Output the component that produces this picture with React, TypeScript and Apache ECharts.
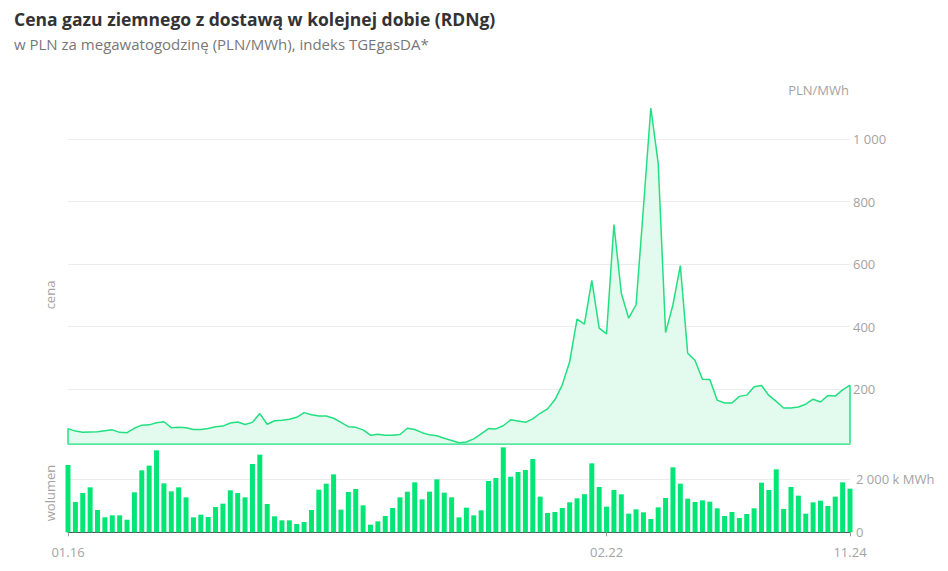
import React, { useEffect, useRef } from "react";
import * as echarts from "echarts";

const FONT = "'Open Sans', 'Noto Sans', sans-serif";

const TITLE = "Cena gazu ziemnego z dostawą w kolejnej dobie (RDNg)";
const SUBTITLE = "w PLN za megawatogodzinę (PLN/MWh), indeks TGEgasDA*";

const months = [
  "01.16","02.16","03.16","04.16","05.16","06.16","07.16","08.16","09.16","10.16","11.16","12.16",
  "01.17","02.17","03.17","04.17","05.17","06.17","07.17","08.17","09.17","10.17","11.17","12.17",
  "01.18","02.18","03.18","04.18","05.18","06.18","07.18","08.18","09.18","10.18","11.18","12.18",
  "01.19","02.19","03.19","04.19","05.19","06.19","07.19","08.19","09.19","10.19","11.19","12.19",
  "01.20","02.20","03.20","04.20","05.20","06.20","07.20","08.20","09.20","10.20","11.20","12.20",
  "01.21","02.21","03.21","04.21","05.21","06.21","07.21","08.21","09.21","10.21","11.21","12.21",
  "01.22","02.22","03.22","04.22","05.22","06.22","07.22","08.22","09.22","10.22","11.22","12.22",
  "01.23","02.23","03.23","04.23","05.23","06.23","07.23","08.23","09.23","10.23","11.23","12.23",
  "01.24","02.24","03.24","04.24","05.24","06.24","07.24","08.24","09.24","10.24","11.24",
];

const shownLabels = ["01.16", "02.22", "11.24"];

// PLN/MWh
const price = [
  74, 66, 62, 63, 64, 67, 70, 62, 61, 75, 85, 86,
  93, 96, 77, 78, 77, 71, 71, 74, 80, 82, 92, 95,
  87, 94, 122, 88, 99, 101, 104, 110, 125, 118, 114, 114,
  107, 94, 80, 78, 70, 53, 56, 53, 53, 55, 75, 71,
  61, 54, 51, 43, 36, 29, 31, 41, 57, 74, 73, 83,
  102, 98, 94, 105, 123, 137, 166, 214, 288, 424, 408, 548,
  395, 377, 726, 507, 427, 470, 780, 1099, 923, 381, 470, 595,
  315, 292, 232, 231, 165, 156, 156, 177, 181, 208, 212, 180,
  161, 140, 140, 143, 152, 168, 159, 180, 178, 198, 213,
];

// k MWh
const volume = [
  2540, 1143, 1483, 1697, 842, 565, 640, 640, 477, 1508, 2339, 2515,
  3093, 1848, 1546, 1697, 1320, 565, 665, 577, 955, 1081, 1584, 1483,
  1320, 2577, 2930, 1068, 603, 452, 452, 313, 389, 842, 1609, 1835,
  2187, 854, 1521, 1634, 1018, 288, 414, 615, 917, 1320, 1533, 1885,
  1244, 1533, 1999, 1496, 1320, 565, 930, 640, 829, 1936, 2049, 3206,
  2099, 2276, 2351, 2766, 1345, 728, 766, 917, 1131, 1282, 1440, 2602,
  1710, 967, 1596, 1433, 703, 867, 754, 502, 942, 1294, 2452, 1835,
  1269, 1143, 1206, 1156, 904, 615, 766, 540, 691, 904, 1873, 1596,
  2377, 879, 1710, 1383, 703, 1131, 1194, 993, 1345, 1885, 1647,
];

const PRICE_MIN = 27;
const PRICE_MAX = 1100;
const VOL_MAX = 3300;

const LINE_COLOR = "#22e080";
const AREA_COLOR = "#e3fbee";
const BAR_COLOR = "#03e676";
const LABEL_COLOR = "#a3a3a3";

const fmtThousands = (v: number) =>
  String(v).replace(/\B(?=(\d{3})+(?!\d))/g, " ");

export default function App() {
  const ref = useRef<HTMLDivElement>(null);

  useEffect(() => {
    if (!ref.current) return;
    const chart = echarts.init(ref.current, undefined, { renderer: "svg" });
    const showIdx = (idx: number) => shownLabels.includes(months[idx]);
    const last = months.length - 1;

    chart.setOption({
      animation: false,
      textStyle: { fontFamily: FONT },
      title: {
        text: TITLE,
        subtext: SUBTITLE,
        left: 14,
        top: 9,
        padding: 0,
        itemGap: 6,
        textStyle: {
          fontFamily: FONT,
          fontSize: 17.5,
          fontWeight: "bold",
          color: "#333333",
          lineHeight: 20,
        },
        subtextStyle: {
          fontFamily: FONT,
          fontSize: 15,
          color: "#777777",
          lineHeight: 18,
        },
      },
      graphic: [
        {
          type: "text",
          x: 849,
          y: 90,
          style: {
            text: "PLN/MWh",
            fill: LABEL_COLOR,
            fontSize: 13,
            fontFamily: FONT,
            align: "right",
            verticalAlign: "middle",
          },
        },
        {
          type: "text",
          x: 50,
          y: 295,
          rotation: Math.PI / 2,
          style: {
            text: "cena",
            fill: LABEL_COLOR,
            fontSize: 13,
            fontFamily: FONT,
            align: "center",
            verticalAlign: "middle",
          },
        },
        {
          type: "text",
          x: 50,
          y: 493,
          rotation: Math.PI / 2,
          style: {
            text: "wolumen",
            fill: LABEL_COLOR,
            fontSize: 13,
            fontFamily: FONT,
            align: "center",
            verticalAlign: "middle",
          },
        },
      ],
      grid: [
        { left: 68, right: 98, top: 107.7, bottom: 127.7 },
        { left: 68, right: 98, top: 444.85, bottom: 38.7 },
      ],
      xAxis: [
        {
          type: "category",
          gridIndex: 0,
          data: months,
          boundaryGap: false,
          axisLine: { show: true, lineStyle: { color: LINE_COLOR, width: 1.5 } },
          axisTick: { show: false },
          axisLabel: { show: false },
          splitLine: { show: false },
        },
        {
          type: "category",
          gridIndex: 1,
          data: months,
          boundaryGap: false,
          axisLine: { show: true, lineStyle: { color: "#555555", width: 1 } },
          axisTick: {
            show: true,
            interval: (idx: number) => showIdx(idx),
            length: 4,
            lineStyle: { color: "#999999" },
          },
          axisLabel: {
            interval: (idx: number) => showIdx(idx),
            color: LABEL_COLOR,
            fontSize: 13,
            margin: 13,
            fontFamily: FONT,
          },
          splitLine: { show: false },
        },
      ],
      yAxis: [
        {
          type: "value",
          gridIndex: 0,
          position: "right",
          min: PRICE_MIN,
          max: PRICE_MAX,
          splitNumber: 5,
          axisLine: { show: false },
          axisTick: { show: false },
          axisLabel: {
            showMinLabel: false,
            showMaxLabel: false,
            margin: 3,
            color: LABEL_COLOR,
            fontSize: 13,
            fontFamily: FONT,
            formatter: (v: number) => fmtThousands(v),
          },
          splitLine: {
            show: true,
            showMinLine: false,
            showMaxLine: false,
            lineStyle: { color: "#ececec", width: 1 },
          },
        },
        {
          type: "value",
          gridIndex: 1,
          position: "right",
          min: 0,
          max: VOL_MAX,
          interval: 2000,
          axisLine: { show: false },
          axisTick: { show: false },
          axisLabel: {
            showMaxLabel: false,
            margin: 6,
            color: LABEL_COLOR,
            fontSize: 13,
            fontFamily: FONT,
            formatter: (v: number) => (v === 0 ? "0" : fmtThousands(v) + " k MWh"),
          },
          splitLine: {
            show: true,
            showMinLine: false,
            showMaxLine: false,
            lineStyle: { color: "#ececec", width: 1 },
          },
        },
      ],
      series: [
        {
          name: "cena",
          type: "line",
          xAxisIndex: 0,
          yAxisIndex: 0,
          data: price,
          showSymbol: false,
          symbol: "none",
          lineStyle: { color: LINE_COLOR, width: 1.5 },
          itemStyle: { color: LINE_COLOR },
          areaStyle: { color: AREA_COLOR, opacity: 1 },
          silent: true,
          markLine: {
            silent: true,
            symbol: ["none", "none"],
            label: { show: false },
            lineStyle: { color: LINE_COLOR, width: 1.5, type: "solid" },
            emphasis: { disabled: true },
            data: [
              [{ coord: [0, PRICE_MIN] }, { coord: [0, price[0]] }],
              [{ coord: [last, PRICE_MIN] }, { coord: [last, price[last]] }],
            ],
          },
        },
        {
          name: "wolumen",
          type: "bar",
          xAxisIndex: 1,
          yAxisIndex: 1,
          data: volume,
          barWidth: 5,
          clip: false,
          silent: true,
          itemStyle: { color: BAR_COLOR },
        },
      ],
    });

    return () => chart.dispose();
  }, []);

  return (
    <div
      ref={ref}
      style={{
        position: "fixed",
        left: 0,
        top: 0,
        width: 948,
        height: 571,
        background: "#ffffff",
      }}
    />
  );
}
